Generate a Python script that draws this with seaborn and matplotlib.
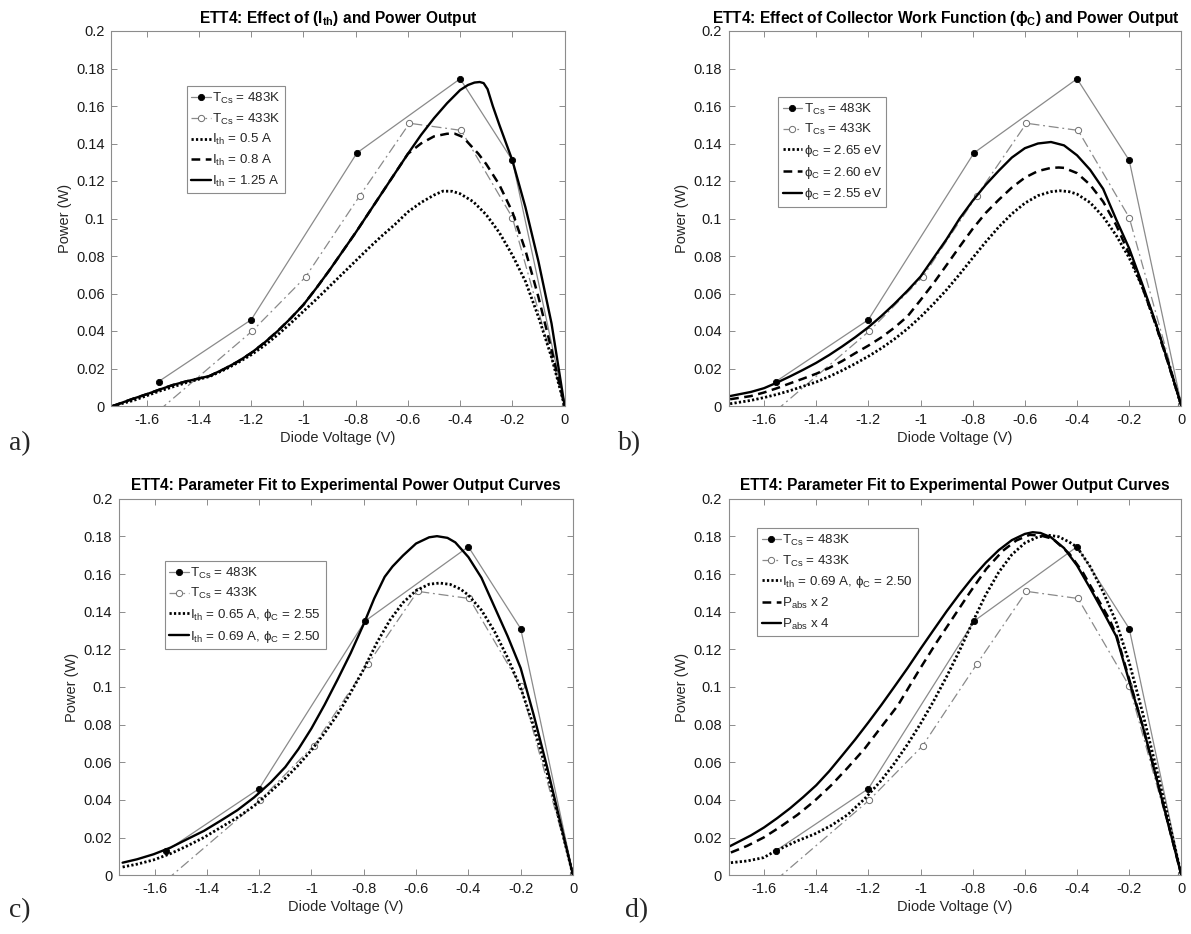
import matplotlib
matplotlib.use("Agg")
import matplotlib.pyplot as plt
import seaborn as sns

# ---------------- experimental data (shared by all panels) ----------------
v_483 = [-1.555, -1.2, -0.795, -0.4, -0.2, 0.0]
p_483 = [0.013, 0.046, 0.135, 0.1745, 0.131, 0.0008]

v_433 = [-1.555, -1.196, -0.992, -0.785, -0.594, -0.396, -0.2, 0.0]
p_433 = [-0.0026, 0.040, 0.0688, 0.112, 0.1508, 0.147, 0.1005, 0.0008]

# ---------------- panel a: thermionic current ----------------
va_05 = [-1.73, -1.65, -1.6, -1.55, -1.5, -1.45, -1.4, -1.36, -1.3, -1.25, -1.2, -1.15,
         -1.1, -1.05, -1.0, -0.95, -0.9, -0.85, -0.8, -0.75, -0.7, -0.65, -0.6, -0.55,
         -0.5, -0.466, -0.43, -0.4, -0.35, -0.3, -0.25, -0.2, -0.15, -0.1, -0.05, 0.0]
pa_05 = [0.0, 0.003, 0.0055, 0.008, 0.0102, 0.0124, 0.0143, 0.0157, 0.0195, 0.0232,
         0.0273, 0.0322, 0.0378, 0.044, 0.0505, 0.057, 0.0638, 0.0706, 0.0774, 0.0842,
         0.0907, 0.0968, 0.1035, 0.1085, 0.1125, 0.1146, 0.1145, 0.1132, 0.109, 0.102,
         0.0925, 0.0805, 0.0665, 0.0475, 0.026, 0.0]

va_08 = [-1.73, -1.65, -1.6, -1.55, -1.5, -1.45, -1.4, -1.36, -1.3, -1.25, -1.2, -1.15,
         -1.1, -1.05, -1.0, -0.95, -0.9, -0.85, -0.8, -0.75, -0.7, -0.65, -0.6, -0.55,
         -0.5, -0.45, -0.42, -0.39, -0.36, -0.33, -0.3, -0.25, -0.2, -0.15, -0.1, -0.05,
         0.0]
pa_08 = [0.0, 0.004, 0.0063, 0.0088, 0.0112, 0.0131, 0.0147, 0.016, 0.020, 0.0238,
         0.0283, 0.0337, 0.0398, 0.0466, 0.054, 0.063, 0.0725, 0.0825, 0.0925, 0.103,
         0.1135, 0.124, 0.1345, 0.140, 0.1438, 0.1452, 0.1452, 0.1435, 0.139, 0.1345,
         0.129, 0.118, 0.1035, 0.083, 0.058, 0.030, 0.0]

va_125 = [-1.73, -1.65, -1.6, -1.55, -1.5, -1.45, -1.4, -1.36, -1.3, -1.25, -1.2, -1.15,
          -1.1, -1.05, -1.0, -0.95, -0.9, -0.85, -0.8, -0.75, -0.7, -0.65, -0.6, -0.55,
          -0.5, -0.45, -0.4, -0.37, -0.345, -0.325, -0.31, -0.295, -0.275, -0.25, -0.2,
          -0.15, -0.1, -0.05, 0.0]
pa_125 = [0.0, 0.004, 0.0063, 0.0088, 0.0112, 0.0131, 0.0147, 0.016, 0.020, 0.0238,
          0.0283, 0.0337, 0.0398, 0.0466, 0.054, 0.063, 0.0725, 0.0825, 0.0925, 0.103,
          0.1135, 0.124, 0.1345, 0.1445, 0.1535, 0.1615, 0.1685, 0.1712, 0.1725, 0.1728,
          0.1722, 0.169, 0.160, 0.150, 0.131, 0.106, 0.077, 0.044, 0.0]

# ---------------- panel b: collector work function ----------------
vb_265 = [-1.73, -1.65, -1.6, -1.55, -1.5, -1.45, -1.4, -1.35, -1.3, -1.25, -1.2, -1.15,
          -1.1, -1.05, -1.0, -0.95, -0.9, -0.85, -0.8, -0.75, -0.7, -0.65, -0.6, -0.55,
          -0.5, -0.466, -0.43, -0.4, -0.35, -0.3, -0.25, -0.2, -0.15, -0.1, -0.05, 0.0]
pb_265 = [0.0012, 0.003, 0.0045, 0.0062, 0.0082, 0.0105, 0.0128, 0.0157, 0.019, 0.0226,
          0.0265, 0.0308, 0.0357, 0.0412, 0.0475, 0.0545, 0.062, 0.0703, 0.079, 0.0875,
          0.0955, 0.1025, 0.1082, 0.1122, 0.1143, 0.1148, 0.1143, 0.113, 0.1085, 0.101,
          0.091, 0.079, 0.0635, 0.0445, 0.023, 0.0]

vb_260 = [-1.73, -1.65, -1.6, -1.55, -1.5, -1.45, -1.4, -1.35, -1.3, -1.25, -1.2, -1.15,
          -1.1, -1.05, -1.0, -0.95, -0.9, -0.85, -0.8, -0.75, -0.7, -0.65, -0.6, -0.55,
          -0.5, -0.47, -0.45, -0.4, -0.35, -0.3, -0.25, -0.2, -0.15, -0.1, -0.05, 0.0]
pb_260 = [0.0036, 0.0053, 0.0072, 0.0095, 0.0121, 0.0146, 0.0172, 0.0203, 0.024, 0.0282,
          0.0322, 0.0366, 0.0418, 0.0478, 0.0565, 0.0655, 0.0752, 0.085, 0.0945, 0.103,
          0.110, 0.1165, 0.1218, 0.1253, 0.127, 0.1272, 0.127, 0.1242, 0.118, 0.109,
          0.0965, 0.081, 0.0635, 0.044, 0.0225, 0.0]

vb_255 = [-1.73, -1.65, -1.6, -1.55, -1.5, -1.45, -1.4, -1.35, -1.3, -1.25, -1.2, -1.15,
          -1.1, -1.05, -1.0, -0.95, -0.9, -0.85, -0.8, -0.75, -0.7, -0.65, -0.6, -0.55,
          -0.5, -0.45, -0.4, -0.35, -0.3, -0.25, -0.2, -0.15, -0.1, -0.05, 0.0]
pb_255 = [0.0053, 0.0075, 0.0095, 0.0125, 0.0158, 0.0193, 0.023, 0.0272, 0.0318, 0.0367,
          0.042, 0.048, 0.0545, 0.0615, 0.069, 0.079, 0.089, 0.100, 0.1095, 0.118,
          0.1255, 0.1325, 0.1375, 0.140, 0.1408, 0.139, 0.1337, 0.126, 0.1158, 0.0995,
          0.084, 0.065, 0.045, 0.023, 0.0]

# ---------------- panel c: parameter fit ----------------
vc_065 = [-1.722, -1.667, -1.603, -1.539, -1.475, -1.411, -1.347, -1.283, -1.219, -1.155,
          -1.1, -1.05, -1.0, -0.95, -0.9, -0.85, -0.8, -0.75, -0.7, -0.65, -0.6, -0.55,
          -0.51, -0.47, -0.43, -0.4, -0.35, -0.3, -0.25, -0.2, -0.15, -0.1, -0.05, 0.0]
pc_065 = [0.0044, 0.0059, 0.0082, 0.0115, 0.0156, 0.0201, 0.0254, 0.0307, 0.0369, 0.0446,
          0.0515, 0.0585, 0.0665, 0.0755, 0.0855, 0.097, 0.1095, 0.1235, 0.1355, 0.1448,
          0.1512, 0.1546, 0.1552, 0.1545, 0.152, 0.1488, 0.1408, 0.1295, 0.1155, 0.0995,
          0.079, 0.055, 0.028, 0.0]

vc_069 = [-1.722, -1.667, -1.603, -1.539, -1.475, -1.411, -1.347, -1.283, -1.219, -1.155,
          -1.1, -1.05, -1.0, -0.95, -0.9, -0.85, -0.8, -0.76, -0.72, -0.69, -0.65, -0.6,
          -0.55, -0.52, -0.48, -0.45, -0.4, -0.35, -0.3, -0.25, -0.2, -0.15, -0.1, -0.05,
          0.0]
pc_069 = [0.0067, 0.0085, 0.0112, 0.0147, 0.0192, 0.0236, 0.029, 0.0346, 0.0414, 0.0494,
          0.0575, 0.067, 0.078, 0.0905, 0.104, 0.118, 0.1335, 0.147, 0.1585, 0.164,
          0.1698, 0.1762, 0.1795, 0.1801, 0.1792, 0.1768, 0.169, 0.158, 0.1425, 0.127,
          0.110, 0.085, 0.058, 0.029, 0.0]

# ---------------- panel d: absorbed power scaling ----------------
vd_x1 = [-1.727, -1.665, -1.601, -1.562, -1.472, -1.408, -1.344, -1.28, -1.215, -1.151,
         -1.1, -1.05, -1.0, -0.95, -0.9, -0.85, -0.8, -0.75, -0.7, -0.65, -0.6, -0.55,
         -0.51, -0.47, -0.43, -0.4, -0.35, -0.3, -0.25, -0.2, -0.15, -0.1, -0.05, 0.0]
pd_x1 = [0.0067, 0.0076, 0.0094, 0.0125, 0.0183, 0.0218, 0.0263, 0.0321, 0.0405, 0.0503,
         0.0595, 0.0695, 0.0805, 0.0925, 0.1055, 0.1195, 0.1345, 0.149, 0.161, 0.1703,
         0.1765, 0.1797, 0.1806, 0.1798, 0.177, 0.1743, 0.164, 0.1505, 0.1345, 0.113,
         0.087, 0.059, 0.030, 0.0]

vd_x2 = [-1.727, -1.665, -1.601, -1.537, -1.472, -1.408, -1.344, -1.28, -1.215, -1.151,
         -1.087, -1.003, -0.939, -0.875, -0.811, -0.748, -0.684, -0.633, -0.582, -0.538,
         -0.493, -0.429, -0.378, -0.327, -0.276, -0.248, -0.2, -0.15, -0.1, -0.05, 0.0]
pd_x2 = [0.0121, 0.0156, 0.0201, 0.0258, 0.0321, 0.0393, 0.0476, 0.057, 0.0671, 0.0787,
         0.0902, 0.1095, 0.1236, 0.1369, 0.1502, 0.1627, 0.1724, 0.1778, 0.1808, 0.1804,
         0.1787, 0.1707, 0.1609, 0.1484, 0.136, 0.1271, 0.104, 0.080, 0.054, 0.027, 0.0]

vd_x4 = [-1.73, -1.65, -1.6, -1.55, -1.5, -1.45, -1.4, -1.35, -1.3, -1.25, -1.2, -1.15,
         -1.1, -1.05, -1.0, -0.95, -0.9, -0.85, -0.8, -0.75, -0.7, -0.65, -0.6, -0.57,
         -0.54, -0.5, -0.45, -0.4, -0.35, -0.3, -0.25, -0.2, -0.15, -0.1, -0.05, 0.0]
pd_x4 = [0.0155, 0.0212, 0.0254, 0.0303, 0.0356, 0.0415, 0.0478, 0.0553, 0.0637, 0.0722,
         0.0812, 0.0905, 0.1002, 0.110, 0.1203, 0.1303, 0.1402, 0.1495, 0.1582, 0.166,
         0.1727, 0.178, 0.1813, 0.1822, 0.1818, 0.1795, 0.1738, 0.1645, 0.1525, 0.140,
         0.127, 0.103, 0.080, 0.054, 0.027, 0.0]

# ---------------- axis ticks ----------------
x_ticks = [-1.6, -1.4, -1.2, -1.0, -0.8, -0.6, -0.4, -0.2, 0.0]
x_tick_labels = ["-1.6", "-1.4", "-1.2", "-1", "-0.8", "-0.6", "-0.4", "-0.2", "0"]
y_ticks = [0.0, 0.02, 0.04, 0.06, 0.08, 0.10, 0.12, 0.14, 0.16, 0.18, 0.20]
y_tick_labels = ["0", "0.02", "0.04", "0.06", "0.08", "0.1", "0.12", "0.14", "0.16",
                 "0.18", "0.2"]

# ---------------- style ----------------
sns.set_theme(style="ticks")
FRAME = "#8c8c8c"
plt.rcParams.update({
    "font.family": ["Liberation Sans", "DejaVu Sans"],
    "mathtext.default": "regular",
    "axes.unicode_minus": False,
    "xtick.direction": "in",
    "ytick.direction": "in",
    "xtick.top": True,
    "ytick.right": True,
    "axes.edgecolor": FRAME,
    "axes.linewidth": 0.8,
    "xtick.color": FRAME,
    "ytick.color": FRAME,
    "xtick.labelcolor": "#1a1a1a",
    "ytick.labelcolor": "#1a1a1a",
    "xtick.major.size": 4,
    "ytick.major.size": 4,
    "xtick.major.width": 0.7,
    "ytick.major.width": 0.7,
    "xtick.labelsize": 10.5,
    "ytick.labelsize": 10.5,
    "axes.labelsize": 10.5,
    "axes.labelcolor": "#262626",
})

EXP_GREY = "#8a8a8a"
STYLE_483 = dict(color=EXP_GREY, linewidth=0.9, linestyle="-", marker="o",
                 markersize=4.5, markerfacecolor="black", markeredgecolor="black",
                 markeredgewidth=0.6)
STYLE_433 = dict(color=EXP_GREY, linewidth=0.9, linestyle=(0, (8, 3, 1.5, 3)),
                 marker="o", markersize=4.5, markerfacecolor="white",
                 markeredgecolor="#6e6e6e", markeredgewidth=0.7)
DOT = dict(color="black", linewidth=2.0, linestyle=(0, (0.8, 0.8)))
DASH = dict(color="black", linewidth=1.8, linestyle=(0, (3.5, 2.2)))
SOLID = dict(color="black", linewidth=1.7, linestyle="-")


def draw(ax, v, p, label, style):
    sns.lineplot(x=v, y=p, ax=ax, label=label, sort=False, estimator=None, **style)


fig = plt.figure(figsize=(11.91, 9.34), dpi=100)
W, H = 1191.0, 934.0


def make_axes(left, right, top, bottom):
    return fig.add_axes([left / W, 1 - bottom / H, (right - left) / W, (bottom - top) / H])


ax_a = make_axes(111.5, 564.6, 31.0, 406.0)
ax_b = make_axes(728.8, 1181.4, 31.0, 406.0)
ax_c = make_axes(119.2, 573.0, 498.7, 875.3)
ax_d = make_axes(728.8, 1181.4, 498.7, 875.3)

# panel a
draw(ax_a, v_483, p_483, "T$_{Cs}$ = 483K", STYLE_483)
draw(ax_a, v_433, p_433, "T$_{Cs}$ = 433K", STYLE_433)
draw(ax_a, va_05, pa_05, "I$_{th}$ = 0.5 A", DOT)
draw(ax_a, va_08, pa_08, "I$_{th}$ = 0.8 A", DASH)
draw(ax_a, va_125, pa_125, "I$_{th}$ = 1.25 A", SOLID)

# panel b
draw(ax_b, v_483, p_483, "T$_{Cs}$ = 483K", STYLE_483)
draw(ax_b, v_433, p_433, "T$_{Cs}$ = 433K", STYLE_433)
draw(ax_b, vb_265, pb_265, "ϕ$_C$ = 2.65 eV", DOT)
draw(ax_b, vb_260, pb_260, "ϕ$_C$ = 2.60 eV", DASH)
draw(ax_b, vb_255, pb_255, "ϕ$_C$ = 2.55 eV", SOLID)

# panel c
draw(ax_c, v_483, p_483, "T$_{Cs}$ = 483K", STYLE_483)
draw(ax_c, v_433, p_433, "T$_{Cs}$ = 433K", STYLE_433)
draw(ax_c, vc_065, pc_065, "I$_{th}$ = 0.65 A, ϕ$_C$ = 2.55", DOT)
draw(ax_c, vc_069, pc_069, "I$_{th}$ = 0.69 A, ϕ$_C$ = 2.50", SOLID)

# panel d
draw(ax_d, v_483, p_483, "T$_{Cs}$ = 483K", STYLE_483)
draw(ax_d, v_433, p_433, "T$_{Cs}$ = 433K", STYLE_433)
draw(ax_d, vd_x1, pd_x1, "I$_{th}$ = 0.69 A, ϕ$_C$ = 2.50", DOT)
draw(ax_d, vd_x2, pd_x2, "P$_{abs}$ x 2", DASH)
draw(ax_d, vd_x4, pd_x4, "P$_{abs}$ x 4", SOLID)

titles = {
    ax_a: ("ETT4: Effect of (I$_{th}$) and Power Output", 0.5),
    ax_b: ("ETT4: Effect of Collector Work Function (ϕ$_C$) and Power Output", 0.48),
    ax_c: ("ETT4: Parameter Fit to Experimental Power Output Curves", 0.5),
    ax_d: ("ETT4: Parameter Fit to Experimental Power Output Curves", 0.5),
}
legend_pos = {ax_a: (0.166, 0.853), ax_b: (0.109, 0.824),
              ax_c: (0.100, 0.835), ax_d: (0.062, 0.922)}

for ax in (ax_a, ax_b, ax_c, ax_d):
    ax.set_xlim(-1.735, 0.0)
    ax.set_ylim(0.0, 0.2)
    ax.set_xticks(x_ticks)
    ax.set_xticklabels(x_tick_labels)
    ax.set_yticks(y_ticks)
    ax.set_yticklabels(y_tick_labels)
    ax.tick_params(pad=5)
    ax.set_xlabel("Diode Voltage (V)", labelpad=3)
    ax.set_ylabel("Power (W)", labelpad=3)
    for s in ax.spines.values():
        s.set_visible(True)
        s.set_color(FRAME)
    text, xc = titles[ax]
    ax.set_title(text, x=xc, fontsize=11.2, fontweight="bold", pad=6, color="black")
    leg = ax.legend(loc="upper left", bbox_to_anchor=legend_pos[ax], fontsize=9.6,
                    frameon=True, fancybox=False, framealpha=1, edgecolor=FRAME,
                    handlelength=1.45, handletextpad=0.12, labelspacing=0.42,
                    borderpad=0.35, borderaxespad=0.0)
    leg.get_frame().set_linewidth(0.8)

serif = ["Liberation Serif", "DejaVu Serif"]
fig.text(9 / W, 1 - 444 / H, "a)", fontsize=20, family=serif, va="center")
fig.text(618 / W, 1 - 444 / H, "b)", fontsize=20, family=serif, va="center")
fig.text(9 / W, 1 - 911 / H, "c)", fontsize=20, family=serif, va="center")
fig.text(625 / W, 1 - 911 / H, "d)", fontsize=20, family=serif, va="center")

fig.savefig("out.png", dpi=100, facecolor="white")
